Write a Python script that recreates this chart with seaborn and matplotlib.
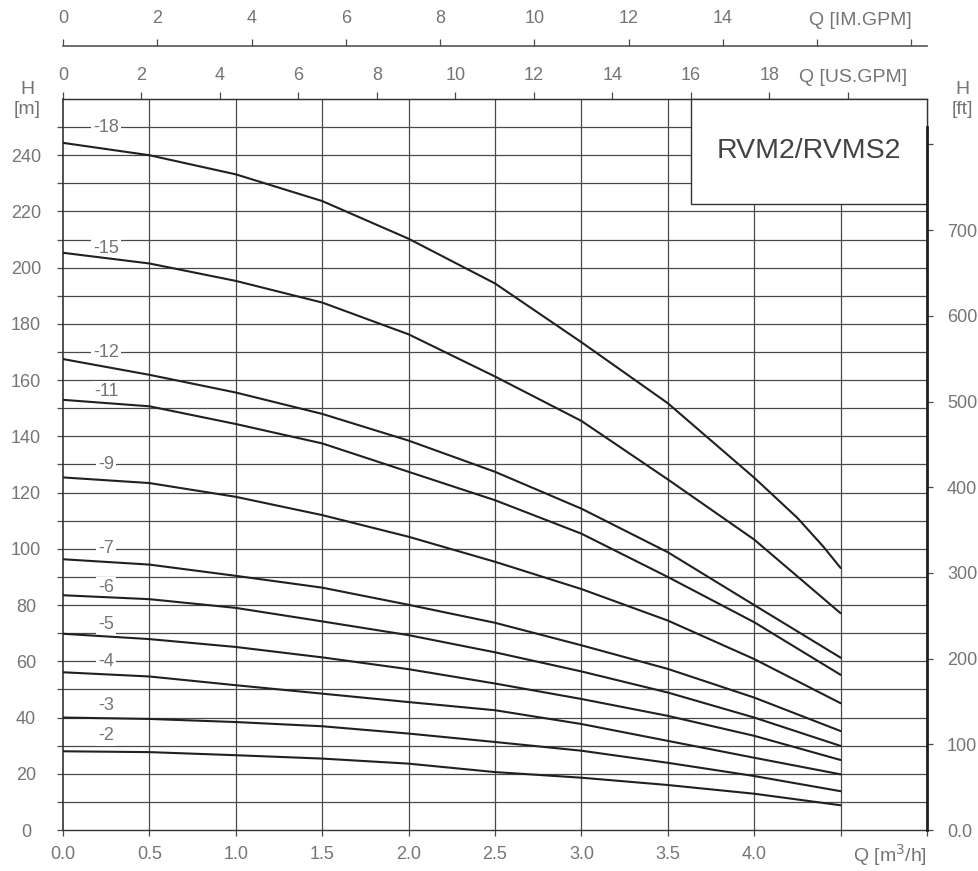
import matplotlib
matplotlib.use("Agg")
import matplotlib.pyplot as plt
import seaborn as sns
import pandas as pd
from matplotlib.patches import Rectangle

# ---------------- data ----------------
Q = [0.0, 0.5, 1.0, 1.5, 2.0, 2.5, 3.0, 3.5, 4.0, 4.5]
Q18 = [0.0, 0.5, 1.0, 1.5, 2.0, 2.5, 3.0, 3.5, 4.0, 4.1, 4.25, 4.4, 4.5]
H18 = [244.4, 240.0, 233.2, 223.7, 210.3, 194.4, 173.5, 151.8, 125.3, 119.6, 111.0, 100.8, 93.2]
H15 = [205.3, 201.5, 195.3, 187.6, 176.3, 161.3, 145.5, 124.7, 103.3, 77.1]
H12 = [167.5, 161.9, 155.6, 148.0, 138.5, 127.4, 114.3, 98.8, 80.0, 61.3]
H11 = [153.0, 150.7, 144.4, 137.5, 127.4, 117.3, 105.4, 90.0, 73.9, 55.2]
H9 = [125.4, 123.4, 118.5, 112.0, 104.3, 95.4, 85.7, 74.5, 60.8, 45.1]
H7 = [96.3, 94.4, 90.4, 86.2, 80.1, 73.7, 65.7, 57.3, 47.1, 35.2]
H6 = [83.5, 82.1, 79.0, 74.2, 69.3, 63.2, 56.4, 48.9, 40.0, 29.9]
H5 = [69.8, 67.9, 65.1, 61.4, 57.2, 52.1, 46.6, 40.6, 33.5, 24.9]
H4 = [56.1, 54.6, 51.5, 48.5, 45.5, 42.6, 37.7, 31.7, 25.7, 19.8]
H3 = [40.0, 39.5, 38.4, 36.9, 34.3, 31.3, 28.2, 23.9, 19.2, 13.8]
H2 = [28.0, 27.7, 26.6, 25.4, 23.6, 20.6, 18.6, 16.0, 12.9, 8.8]

curve_names = ["-18", "-15", "-12", "-11", "-9", "-7", "-6", "-5", "-4", "-3", "-2"]
curve_q = [Q18, Q, Q, Q, Q, Q, Q, Q, Q, Q, Q]
curve_h = [H18, H15, H12, H11, H9, H7, H6, H5, H4, H3, H2]
label_h = [250, 207, 170, 156, 130, 100, 86.3, 73, 60, 44.2, 33.5]

x_ticks = [0.0, 0.5, 1.0, 1.5, 2.0, 2.5, 3.0, 3.5, 4.0, 4.5, 5.0]
x_ticklabels = ["0.0", "0.5", "1.0", "1.5", "2.0", "2.5", "3.0", "3.5", "4.0", "", ""]
us_ticks = [0, 2, 4, 6, 8, 10, 12, 14, 16, 18, 20]
us_labels = ["0", "2", "4", "6", "8", "10", "12", "14", "16", "18", ""]
im_ticks = [0, 2, 4, 6, 8, 10, 12, 14, 16, 18]
im_labels = ["0", "2", "4", "6", "8", "10", "12", "14", "", ""]
ft_ticks = [0, 100, 200, 300, 400, 500, 600, 700, 800]
ft_labels = ["0.0", "100", "200", "300", "400", "500", "600", "700", ""]
title = "RVM2/RVMS2"

# ---------------- style ----------------
sns.set_style("ticks")
plt.rcParams["font.family"] = ["Liberation Sans", "DejaVu Sans"]
TXT = "#757575"
GRID = "#4a4a4a"
INK = "#231f20"
FS = 13

W, Hh = 979, 871
fig = plt.figure(figsize=(W / 100, Hh / 100), dpi=100)
L, R, B, T = 63, 927, 830, 99
ax = fig.add_axes([L / W, 1 - B / Hh, (R - L) / W, (B - T) / Hh])

rows = []
for name, qs, hs in zip(curve_names, curve_q, curve_h):
    for q, h in zip(qs, hs):
        rows.append({"Q": q, "H": h, "pump": name})
df = pd.DataFrame(rows)

sns.lineplot(data=df, x="Q", y="H", units="pump", estimator=None, sort=False,
             color=INK, lw=1.5, ax=ax, zorder=3)

ax.set_xlim(0, 5.0)
ax.set_ylim(0, 260)
ax.set_xlabel("")
ax.set_ylabel("")

# grid
for v in range(10, 260, 10):
    ax.axhline(v, color=GRID, lw=0.9, zorder=1)
for q in [0.5, 1.0, 1.5, 2.0, 2.5, 3.0, 3.5, 4.0, 4.5]:
    ax.axvline(q, color=GRID, lw=0.9, zorder=1)

# ticks
ax.set_xticks(x_ticks)
ax.set_xticklabels(x_ticklabels)
ax.set_yticks(list(range(0, 260, 10)))
ax.set_yticklabels([str(v) if v % 20 == 0 else "" for v in range(0, 260, 10)])
ax.tick_params(axis="x", direction="out", length=4, width=0.9, color=GRID,
               labelsize=FS, labelcolor=TXT, pad=7.5)
ax.tick_params(axis="y", direction="out", length=4.3, width=0.9, color=GRID,
               labelsize=FS, labelcolor=TXT, pad=22.3)
for lb in ax.get_yticklabels():
    lb.set_ha("center")

for s in ["left", "bottom", "top", "right"]:
    ax.spines[s].set_color("#333333")
    ax.spines[s].set_linewidth(1.0)
ax.spines["left"].set_linewidth(1.2)
ax.spines["right"].set_color("#9a9a9a")

# right axis (ft)
ax2 = ax.twinx()
ax2.set_ylim(0, 260 * 3.28084)
ax2.set_yticks(ft_ticks)
ax2.set_yticklabels(ft_labels)
ax2.tick_params(axis="y", direction="out", length=4.3, width=0.9, color=GRID,
                labelsize=FS, labelcolor=TXT, pad=10)
ax2.spines["right"].set_linewidth(2.0)
ax2.spines["right"].set_color(INK)
ax2.spines["right"].set_bounds(0, (830 - 128) / 2.807 * 3.28084)
for s in ["left", "top", "bottom"]:
    ax2.spines[s].set_visible(False)
ax2.grid(False)

# top secondary axes
us = ax.secondary_xaxis(1.0, functions=(lambda q: q * 4.40287, lambda g: g / 4.40287))
us.set_xticks(us_ticks)
us.set_xticklabels(us_labels)
us.tick_params(direction="out", length=5, width=0.9, color=GRID,
               labelsize=FS, labelcolor=TXT, pad=5.5)
us.spines["top"].set_color("#333333")

im = ax.secondary_xaxis(1 + (T - 46.5) / (B - T),
                        functions=(lambda q: q * 3.66615, lambda g: g / 3.66615))
im.set_xticks(im_ticks)
im.set_xticklabels(im_labels)
im.tick_params(direction="out", length=5, width=0.9, color=GRID,
               labelsize=FS, labelcolor=TXT, pad=9)
im.spines["top"].set_color("#555555")
im.spines["top"].set_linewidth(1.2)

# axis titles
def ftext(x, y, s, **kw):
    fig.text(x / W, 1 - y / Hh, s, color=TXT, fontsize=FS + 1, **kw)

ftext(907, 82, "Q [US.GPM]", ha="right", va="baseline")
ftext(912, 25, "Q [IM.GPM]", ha="right", va="baseline")
ftext(927, 862, r"Q [m$^3$/h]", ha="right", va="baseline")
ftext(27, 89.5, "H", ha="center", va="center")
ftext(27, 109, "[m]", ha="center", va="center")
ftext(962, 89.5, "H", ha="center", va="center")
ftext(962, 109, "[ft]", ha="center", va="center")

# curve labels
for name, hl in zip(curve_names, label_h):
    ax.text(0.25, hl, name, ha="center", va="center", fontsize=FS, color=TXT,
            zorder=2.5, bbox=dict(boxstyle="square,pad=0.12", fc="white", ec="none"))

# title box
x0 = (691 - L) / 172.8
y0 = (830 - 205) / 2.807
ax.add_patch(Rectangle((x0, y0), 5.0 - x0, 260 - y0, fc="white", ec="#333333",
                       lw=1.0, zorder=2.6, clip_on=False))
ax.text((x0 + 5.0) / 2, (y0 + 260) / 2, title, ha="center", va="center",
        fontsize=20.5, color="#444444", zorder=2.7)

fig.savefig("out.png", dpi=100)
